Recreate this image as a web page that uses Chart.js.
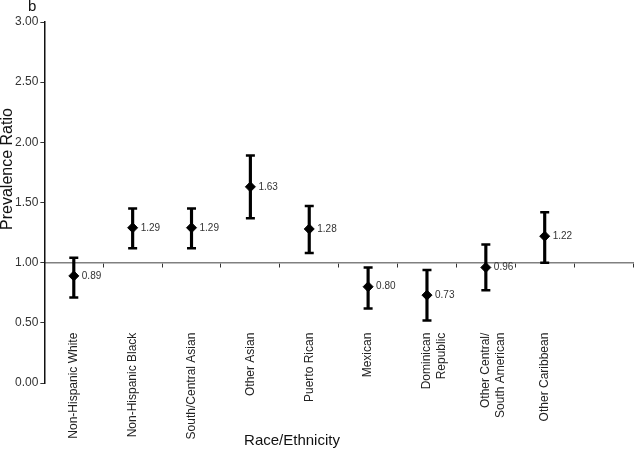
<!DOCTYPE html>
<html>
<head>
<meta charset="utf-8">
<script src="https://cdn.jsdelivr.net/npm/chart.js@4"></script>
<style>
  html, body { margin: 0; padding: 0; background: #fff; }
  #wrap { width: 640px; height: 449px; }
</style>
</head>
<body>
<div id="wrap"><canvas id="prChart"></canvas></div>
<script>
// categories (last slot is empty in the original figure)
const groups = [
    'Non-Hispanic White', 'Non-Hispanic Black', 'South/Central Asian', 'Other Asian',
    'Puerto Rican', 'Mexican', ['Dominican', 'Republic'], ['Other Central/', 'South American'],
    'Other Caribbean', ''
];
const ratios = [0.89, 1.29, 1.29, 1.63, 1.28, 0.80, 0.73, 0.96, 1.22, null];
const lowerCI = [0.71, 1.12, 1.12, 1.37, 1.08, 0.62, 0.52, 0.77, 1.00, null];
const upperCI = [1.04, 1.45, 1.45, 1.89, 1.47, 0.96, 0.94, 1.15, 1.42, null];
const yTicks = [0, 0.5, 1, 1.5, 2, 2.5, 3];

const FONT = "'Liberation Sans', Arial, sans-serif";

// value labels next to the diamonds + the free text ("b", axis titles)
const extrasPlugin = {
    id: 'extras',
    afterDatasetsDraw(chart) {
        const ctx = chart.ctx;
        const meta = chart.getDatasetMeta(3);
        ctx.save();
        ctx.font = '10px ' + FONT;
        ctx.fillStyle = '#333';
        ctx.textAlign = 'left';
        ctx.textBaseline = 'middle';
        meta.data.forEach((pt, i) => {
            if (ratios[i] == null) return;
            ctx.fillText(ratios[i].toFixed(2), pt.x + 8, pt.y);
        });
        ctx.restore();
    },
    afterDraw(chart) {
        const ctx = chart.ctx;
        ctx.save();
        ctx.fillStyle = '#111';
        ctx.font = '15px ' + FONT;
        ctx.textAlign = 'left';
        ctx.textBaseline = 'alphabetic';
        ctx.fillText('b', 28, 11);

        ctx.textAlign = 'center';
        ctx.textBaseline = 'middle';
        ctx.font = '15px ' + FONT;
        ctx.fillText('Race/Ethnicity', 292, 441);

        ctx.translate(12, 169);
        ctx.rotate(-Math.PI / 2);
        ctx.textBaseline = 'alphabetic';
        ctx.font = '16px ' + FONT;
        ctx.fillText('Prevalence Ratio', 0, 0);
        ctx.restore();
    }
};

new Chart(document.getElementById('prChart'), {
    type: 'bar',
    data: {
        labels: groups,
        datasets: [
            {
                type: 'bar',
                label: '95% CI',
                data: lowerCI.map((lo, i) => lo == null ? null : [lo, upperCI[i]]),
                backgroundColor: '#000',
                borderWidth: 0,
                barThickness: 2.5
            },
            {
                type: 'line',
                label: 'upper',
                data: upperCI,
                showLine: false,
                pointStyle: 'line',
                pointRadius: 4.5,
                borderColor: '#000',
                borderWidth: 2.5
            },
            {
                type: 'line',
                label: 'lower',
                data: lowerCI,
                showLine: false,
                pointStyle: 'line',
                pointRadius: 4.5,
                borderColor: '#000',
                borderWidth: 2.5
            },
            {
                type: 'line',
                label: 'Prevalence Ratio',
                data: ratios,
                showLine: false,
                pointStyle: 'rectRot',
                pointRadius: 5,
                backgroundColor: '#000',
                borderColor: '#000',
                borderWidth: 1
            }
        ]
    },
    options: {
        responsive: true,
        maintainAspectRatio: false,
        animation: false,
        layout: { padding: { left: 13, right: 3, top: 22, bottom: 66 } },
        plugins: {
            legend: { display: false },
            tooltip: { enabled: false }
        },
        scales: {
            x: {
                type: 'category',
                position: { y: 1 },
                offset: true,
                // big label padding would otherwise squeeze the plot from the right
                afterFit(scale) {
                    scale.paddingLeft = 0;
                    scale.paddingRight = 0;
                },
                grid: {
                    offset: true,
                    drawOnChartArea: false,
                    drawTicks: true,
                    tickLength: 4,
                    color: '#333'
                },
                border: { color: '#808080', width: 1.5 },
                ticks: {
                    autoSkip: false,
                    minRotation: 90,
                    maxRotation: 90,
                    padding: 66,
                    color: '#222',
                    font: { family: FONT, size: 12 }
                }
            },
            y: {
                min: 0,
                max: 3,
                afterBuildTicks(scale) {
                    scale.ticks = yTicks.map(v => ({ value: v }));
                },
                grid: {
                    drawOnChartArea: false,
                    drawTicks: true,
                    tickLength: 4,
                    color: '#333'
                },
                border: { color: '#111', width: 1.5 },
                ticks: {
                    padding: 2,
                    color: '#333',
                    font: { family: FONT, size: 12 },
                    callback: v => v.toFixed(2)
                }
            }
        }
    },
    plugins: [extrasPlugin]
});
</script>
</body>
</html>
